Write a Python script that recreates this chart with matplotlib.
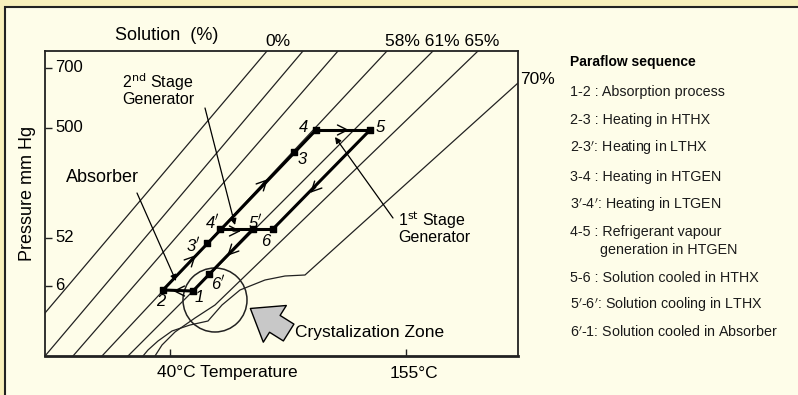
import matplotlib.pyplot as plt
import matplotlib.patches as mpatches
import numpy as np

# diagram units: x = temperature scale, y = pressure scale (both in chart units)
point_names = ['1', '2', "3'", "4'", '3', '4', '5', '6', "5'", "6'"]
point_x = [148, 118, 162, 175, 249, 271, 325, 228, 208, 164]
point_y = [65, 66, 113, 127, 204, 226, 226, 127, 127, 82]

# straight solution lines (top end, bottom end)
iso_top_x = [222, 258, 293, 342, 388]
iso_top_y = [305, 305, 305, 305, 305]
iso_bot_x = [0, 0, 28, 57, 83]
iso_bot_y = [43, 0, 0, 0, 0]

# 65% line, bending near the bottom
iso65_x = [433, 170, 150, 130, 117, 110]
iso65_y = [305, 51, 38, 24, 11, 0]
# 70% line running into the crystallization line
iso70_x = [473, 260, 240, 220, 195, 177, 163, 145, 127, 113, 103, 98]
iso70_y = [273, 81, 80, 76, 66, 51, 35, 31, 25, 15, 6, 0]

ytick_pos = [288, 228, 118, 70]
ytick_lab = ['700', '500', '52', '6']
xtick_pos = [125, 361]

legend_title = 'Paraflow sequence'
legend_items = [
    ('1-2 : Absorption process', 0),
    ('2-3 : Heating in HTHX', 0),
    ("2-3$'$: Heating in LTHX", 0),
    ('3-4 : Heating in HTGEN', 0),
    ("3$'$-4$'$: Heating in LTGEN", 0),
    ('4-5 : Refrigerant vapour', 0),
    ('generation in HTGEN', 1),
    ('5-6 : Solution cooled in HTHX', 0),
    ("5$'$-6$'$: Solution cooling in LTHX", 0),
    ("6$'$-1: Solution cooled in Absorber", 0),
]
legend_y = [92, 120, 148, 177, 205, 232, 250, 278, 305, 332]

W, H = 798, 395
outer = '#f8f0bc'
inner = '#fefde9'
sans = 'Liberation Sans'

fig = plt.figure(figsize=(W / 100, H / 100), dpi=100, facecolor=outer)
fig.patches.append(mpatches.Rectangle((5 / W, -0.1), 1.2, 1.1 - 7 / H,
                                      transform=fig.transFigure, facecolor=inner,
                                      edgecolor='#222222', lw=1.5, zorder=-5))

def ftext(x, y, s, **kw):
    fig.text(x / W, 1 - y / H, s, **kw)

ax = fig.add_axes([45 / W, (H - 356) / H, 473 / W, 305 / H])
ax.set_xlim(0, 473)
ax.set_ylim(0, 305)
ax.set_facecolor('none')
for sp in ax.spines.values():
    sp.set_linewidth(1.3)
    sp.set_color('#222222')
ax.spines['bottom'].set_linewidth(2)

ax.set_yticks(ytick_pos)
ax.set_yticklabels([])
ax.set_xticks(xtick_pos)
ax.set_xticklabels([])
ax.tick_params(direction='in', length=5, width=1, color='#222222')
for p, lab in zip(ytick_pos, ytick_lab):
    ax.text(10, p, lab, ha='left', va='center', fontsize=12, family=sans)

lc = '#222222'
for x0, y0, x1, y1 in zip(iso_top_x, iso_top_y, iso_bot_x, iso_bot_y):
    ax.plot([x0, x1], [y0, y1], color=lc, lw=0.9)
ax.plot(iso65_x, iso65_y, color=lc, lw=0.9)
ax.plot(iso70_x, iso70_y, color=lc, lw=0.9)

P = dict(zip(point_names, zip(point_x, point_y)))

def seg(a, b):
    ax.plot([P[a][0], P[b][0]], [P[a][1], P[b][1]], color='black', lw=2.2,
            solid_capstyle='round', zorder=4)

seg('2', '4'); seg('4', '5'); seg('5', '6'); seg("4'", '6')
seg("5'", '1'); seg('1', '2')

ax.scatter(point_x, point_y, s=22, color='black', marker='s', zorder=5)

lab_off = {'1': (6, -7), '2': (-2, -12), "3'": (-14, -2), "4'": (-8, 7),
           '3': (8, -7), '4': (-12, 3), '5': (10, 2), '6': (-7, -13),
           "5'": (2, 7), "6'": (9, -9)}
for n in point_names:
    dx, dy = lab_off[n]
    txt = n[0] + ("$'$" if "'" in n else '')
    ax.text(P[n][0] + dx, P[n][1] + dy, txt, ha='center', va='center',
            fontsize=12, style='italic', family=sans, zorder=6)

def chevron(x, y, ang):
    d = np.array([np.cos(np.radians(ang)), np.sin(np.radians(ang))])
    ax.annotate('', xy=(x + 4 * d[0], y + 4 * d[1]), xytext=(x - 4 * d[0], y - 4 * d[1]),
                arrowprops=dict(arrowstyle='->', lw=1, color='black',
                                mutation_scale=18, shrinkA=0, shrinkB=0), zorder=6)

chevron(148, 98, 46); chevron(220, 174, 46); chevron(300, 226, 0)
chevron(268, 166, 226); chevron(192, 125, 0); chevron(185, 103, 226)
chevron(132, 65, 180)

def leader(x0, y0, x1, y1):
    ax.annotate('', xy=(x1, y1), xytext=(x0, y0),
                arrowprops=dict(arrowstyle='-|>', lw=0.9, color='black',
                                mutation_scale=9, shrinkA=0, shrinkB=0))

leader(92, 163, 131, 75)
leader(160, 248, 190, 131)
leader(348, 138, 290, 219)

ax.add_patch(mpatches.Ellipse((170, 56), 64, 64, fill=False, lw=1.1, color=lc))
ax.add_patch(mpatches.FancyArrowPatch((246, 22), (203, 49),
             arrowstyle='simple,head_length=0.8,head_width=1.2,tail_width=0.55',
             mutation_scale=26, facecolor='#c8c8c8', edgecolor='black', lw=1))

ax.text(57, 178, 'Absorber', fontsize=13, family=sans, ha='center', va='center')
ax.text(77, 274, '2$^{\\rm nd}$ Stage', fontsize=11.5, family=sans, ha='left', va='center')
ax.text(77, 256, 'Generator', fontsize=11.5, family=sans, ha='left', va='center')
ax.text(353, 136, '1$^{\\rm st}$ Stage', fontsize=11.5, family=sans, ha='left', va='center')
ax.text(353, 119, 'Generator', fontsize=11.5, family=sans, ha='left', va='center')
ax.text(250, 23, 'Crystalization Zone', fontsize=12.5, family=sans, ha='left', va='center')

ftext(167, 35, 'Solution  (%)', fontsize=13, family=sans, ha='center', va='center')
ftext(278, 41, '0%', fontsize=12.5, family=sans, ha='center', va='center')
ftext(385, 41, '58% 61% 65%', fontsize=12.5, family=sans, ha='left', va='center')
ftext(520, 80, '70%', fontsize=12.5, family=sans, ha='left', va='center')
ftext(27, 193, 'Pressure mm Hg', fontsize=13, family=sans, rotation=90, ha='center', va='center')
ftext(157, 373, '40°C Temperature', fontsize=12.5, family=sans, ha='left', va='center')
ftext(390, 373, '155°C', fontsize=12.5, family=sans, ha='left', va='center')

ftext(570, 62, legend_title, fontsize=10, family=sans, weight='bold', ha='left', va='center')
for (s, indent), y in zip(legend_items, legend_y):
    ftext(570 + 30 * indent, y, s, fontsize=10.3, family=sans, color='#1a1a1a',
          ha='left', va='center')

fig.savefig('out.png', dpi=100, facecolor=outer)
